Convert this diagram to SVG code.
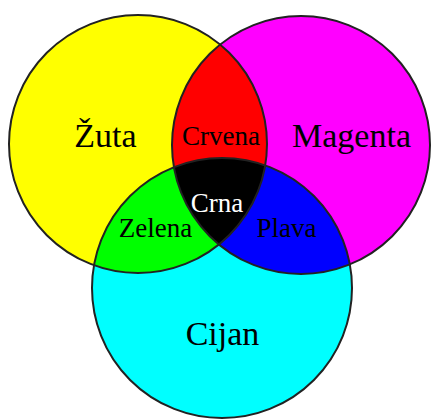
<svg xmlns="http://www.w3.org/2000/svg" width="434" height="420" viewBox="0 0 434 420">
  <defs>
    <clipPath id="clipY"><circle cx="138" cy="144" r="129"/></clipPath>
    <clipPath id="clipM"><circle cx="301" cy="145" r="129"/></clipPath>
    <clipPath id="clipC"><circle cx="222" cy="288" r="130"/></clipPath>
  </defs>
  <style>
    .lbl { font-family: "Liberation Serif", "Times New Roman", serif; text-anchor: middle; fill: #000; }
    .big { font-size: 34px; }
    .small { font-size: 27px; }
    .outline { fill: none; stroke: #222; stroke-width: 2; }
  </style>
  <rect width="434" height="420" fill="#fff"/>
  <g id="zuta-circle"><circle cx="138" cy="144" r="129" fill="#FFFF00"/></g>
  <g id="magenta-circle"><circle cx="301" cy="145" r="129" fill="#FF00FF"/></g>
  <g id="cijan-circle"><circle cx="222" cy="288" r="130" fill="#00FFFF"/></g>
  <g id="crvena-region" clip-path="url(#clipY)"><circle cx="301" cy="145" r="129" fill="#FF0000"/></g>
  <g id="zelena-region" clip-path="url(#clipY)"><circle cx="222" cy="288" r="130" fill="#00FF00"/></g>
  <g id="plava-region" clip-path="url(#clipM)"><circle cx="222" cy="288" r="130" fill="#0000FF"/></g>
  <g id="crna-region" clip-path="url(#clipY)"><g clip-path="url(#clipM)"><circle cx="222" cy="288" r="130" fill="#000"/></g></g>
  <g id="outlines">
    <circle class="outline" cx="138" cy="144" r="129"/>
    <circle class="outline" cx="301" cy="145" r="129"/>
    <circle class="outline" cx="222" cy="288" r="130"/>
  </g>
  <g id="labels">
    <text class="lbl big" x="105.5" y="147">Žuta</text>
    <text class="lbl big" x="351.5" y="147">Magenta</text>
    <text class="lbl big" x="222.5" y="345">Cijan</text>
    <text class="lbl small" x="221" y="145">Crvena</text>
    <text class="lbl small" x="217" y="212" style="fill:#fff">Crna</text>
    <text class="lbl small" x="155.5" y="237">Zelena</text>
    <text class="lbl small" x="286.5" y="237">Plava</text>
  </g>
</svg>
